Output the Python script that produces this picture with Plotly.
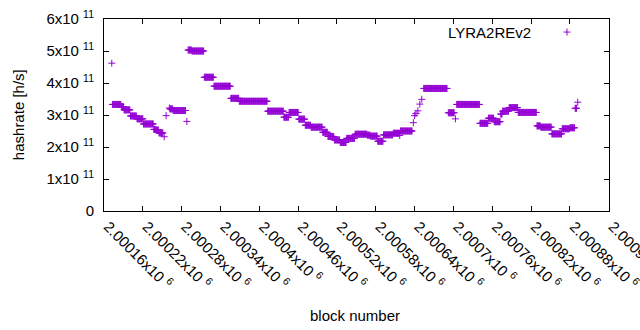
import plotly.graph_objects as go

# ---- data (block offsets from 2,000,000 ; hashrate in units of 1e11 h/s) ----
BLOCK_BASE = 2000000
run_first_block = [172, 173, 187, 191, 201, 211, 221, 237, 241, 245, 253, 256, 261, 262, 267, 288,
                   290, 296, 315, 330, 356, 369, 413, 438, 446, 461, 471, 480, 498, 506, 516, 525,
                   535, 548, 567, 572, 583, 592, 607, 617, 618, 638, 640, 642, 645, 648, 651, 654,
                   692, 703, 705, 741, 754, 763, 773, 776, 786, 800, 829, 835, 852, 868, 880, 888, 892]
run_last_block = [172, 186, 190, 200, 210, 220, 236, 240, 244, 251, 253, 256, 261, 266, 286, 288,
                  295, 314, 329, 355, 368, 412, 437, 445, 460, 470, 479, 497, 505, 515, 524, 534,
                  547, 566, 571, 582, 591, 606, 616, 617, 636, 638, 640, 642, 645, 648, 651, 690,
                  701, 703, 740, 753, 762, 772, 775, 785, 799, 828, 834, 851, 867, 879, 887, 890, 892]
run_hashrate_e11 = [4.62, 3.33, 3.26, 3.16, 2.97, 2.88, 2.72, 2.55, 2.53, 2.44, 2.32, 2.98, 3.22, 3.19, 3.14, 2.80,
                    5.03, 5.00, 4.18, 3.90, 3.52, 3.43, 3.12, 2.93, 3.08, 2.87, 2.68, 2.62, 2.46, 2.33, 2.22, 2.14,
                    2.27, 2.40, 2.37, 2.34, 2.18, 2.38, 2.43, 2.36, 2.50, 2.76, 2.98, 3.05, 3.13, 3.34, 3.49, 3.83,
                    3.07, 2.88, 3.33, 2.74, 2.90, 2.79, 3.03, 3.12, 3.23, 3.08, 2.66, 2.62, 2.41, 2.57, 2.60, 3.21, 3.40]

x_tick_values = [2000160, 2000220, 2000280, 2000340, 2000400, 2000460, 2000520,
                 2000580, 2000640, 2000700, 2000760, 2000820, 2000880, 2000940]
x_tick_labels = ["2.00016x10 <sup>6</sup>", "2.00022x10 <sup>6</sup>", "2.00028x10 <sup>6</sup>",
                 "2.00034x10 <sup>6</sup>", "2.0004x10 <sup>6</sup>", "2.00046x10 <sup>6</sup>",
                 "2.00052x10 <sup>6</sup>", "2.00058x10 <sup>6</sup>", "2.00064x10 <sup>6</sup>",
                 "2.0007x10 <sup>6</sup>", "2.00076x10 <sup>6</sup>", "2.00082x10 <sup>6</sup>",
                 "2.00088x10 <sup>6</sup>", "2.00094x10 <sup>6</sup>"]
y_tick_values = [0, 1e11, 2e11, 3e11, 4e11, 5e11, 6e11]
y_tick_labels = ["0", "1x10 <sup>11</sup>", "2x10 <sup>11</sup>", "3x10 <sup>11</sup>",
                 "4x10 <sup>11</sup>", "5x10 <sup>11</sup>", "6x10 <sup>11</sup>"]
series_name = "LYRA2REv2"

# expand run-length data into one point per block
blocks, hashrate = [], []
for f, l, v in zip(run_first_block, run_last_block, run_hashrate_e11):
    for b in range(f, l + 1):
        blocks.append(BLOCK_BASE + b)
        hashrate.append(v * 1e11)

PURPLE = "#9400D3"
FONT = "Liberation Sans, Arial, sans-serif"

fig = go.Figure()
fig.add_trace(go.Scatter(
    x=blocks, y=hashrate, mode="markers", name=series_name, showlegend=False,
    marker=dict(symbol="cross-thin", size=5, color=PURPLE,
                line=dict(color=PURPLE, width=1)),
))

fig.update_layout(
    width=640, height=330,
    margin=dict(l=104, r=31, t=19, b=119, autoexpand=False),
    paper_bgcolor="white", plot_bgcolor="white",
    font=dict(family=FONT, size=15, color="black"),
    xaxis=dict(range=[2000160, 2000940.3], tickvals=x_tick_values, ticktext=x_tick_labels,
               tickangle=45, ticks="inside", ticklen=5, tickcolor="black",
               showline=True, linecolor="black", linewidth=1, mirror="ticks",
               showgrid=False, zeroline=False, tickfont=dict(size=15), automargin=False,
               ticklabeloverflow="allow", ticklabelshift=4),
    yaxis=dict(range=[0, 6e11], tickvals=y_tick_values, ticktext=y_tick_labels,
               ticks="inside", ticklen=5, tickcolor="black",
               showline=True, linecolor="black", linewidth=1, mirror="ticks",
               showgrid=False, zeroline=False, tickfont=dict(size=15), ticklabelstandoff=6,
               automargin=False),
    annotations=[
        dict(text="hashrate [h/s]", xref="paper", yref="paper", x=-0.17, y=0.5,
             textangle=-90, showarrow=False, xanchor="center", yanchor="middle",
             font=dict(size=15)),
        dict(text="block number", xref="paper", yref="paper", x=0.497, y=-0.5417,
             showarrow=False, xanchor="center", yanchor="middle", font=dict(size=15)),
        dict(text=series_name, xref="paper", yref="paper", x=0.8495, y=0.932,
             showarrow=False, xanchor="right", yanchor="middle", font=dict(size=15)),
    ],
    shapes=[
        dict(type="line", xref="paper", yref="paper", xsizemode="pixel", ysizemode="pixel",
             xanchor=0.9168, yanchor=0.932, x0=-3.5, x1=3.5, y0=0, y1=0,
             line=dict(color=PURPLE, width=1)),
        dict(type="line", xref="paper", yref="paper", xsizemode="pixel", ysizemode="pixel",
             xanchor=0.9168, yanchor=0.932, x0=0, x1=0, y0=-3.5, y1=3.5,
             line=dict(color=PURPLE, width=1)),
    ],
)

fig.write_html("out.html", config={"displayModeBar": False},
               post_script="document.body.style.margin='0px';document.body.style.overflow='hidden';")
